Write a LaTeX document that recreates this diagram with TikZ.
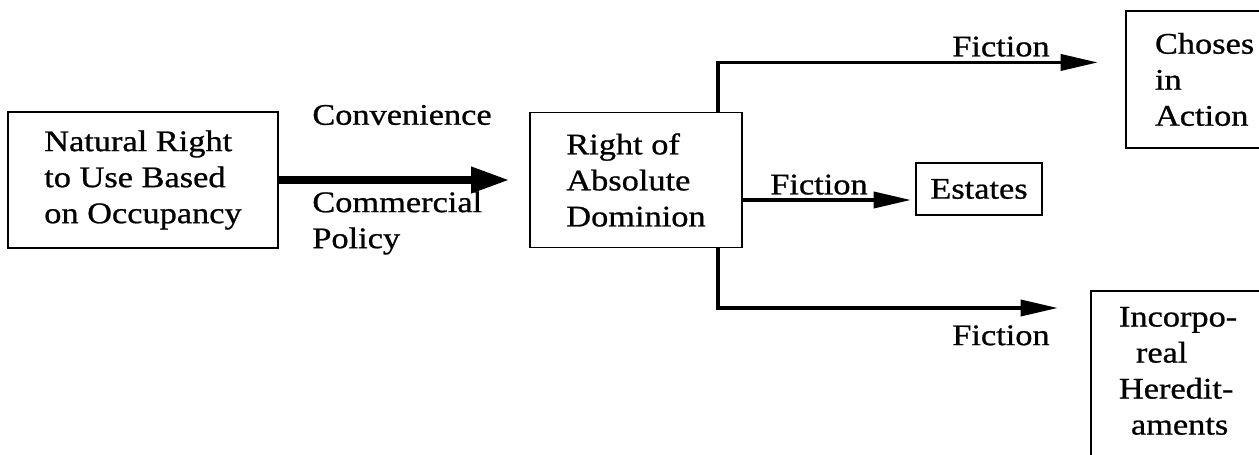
\documentclass[tikz,border=0pt]{standalone}
\usepackage{fontspec}
\setmainfont[FakeStretch=1.15,FakeBold=0.8]{Liberation Serif}
\usetikzlibrary{arrows.meta}
\begin{document}
\begin{tikzpicture}[x=0.02cm,y=-0.02cm,
    font=\fontsize{17}{20.5}\selectfont,
    box/.style={draw,line width=1.1pt,inner sep=0pt},
    lbl/.style={inner sep=0pt,align=left},
    link/.style={line width=2.2pt,-{Triangle[length=0.75cm,width=0.32cm]}},
    bigarrow/.style={line width=4pt,-{Triangle[length=0.76cm,width=0.5cm]}}]
  \useasboundingbox (0,0) rectangle (1259,455);
  \node[box,minimum width=5.4cm,minimum height=2.72cm,align=left] (nat) at (143,180)
    {Natural Right\\to Use Based\\on Occupancy};
  \node[box,minimum width=4.24cm,minimum height=2.7cm,align=left] (dom) at (636,180)
    {Right of\\Absolute\\Dominion};
  \node[box,minimum width=2.52cm,minimum height=1.04cm] (est) at (979,189) {Estates};
  \node[box,anchor=north west,text width=3.6cm,inner xsep=0.58cm,minimum height=2.74cm,align=left] (cho) at (1125,10)
    {Choses\\in\\Action};
  \node[box,anchor=north west,text width=4cm,inner xsep=0.56cm,inner ysep=0.32cm,align=left] (inc) at (1090,290)
    {Incorpo-\\\hspace*{0.34cm}real\\Heredit-\\\hspace*{0.24cm}aments\rule[-2cm]{0pt}{0pt}};
  \node[lbl,anchor=west] (conv) at (312,115) {Convenience};
  \node[lbl,anchor=west] (pol) at (312,223) {Commercial\\Policy};
  \node[lbl,anchor=south east] (fic1) at (1050,57) {Fiction};
  \node[lbl,anchor=south west] (fic2) at (770,195) {Fiction};
  \node[lbl,anchor=north east] (fic3) at (1050,325) {Fiction};
  \begin{scope}
    \draw[bigarrow] (nat.east) -- ([xshift=-0.4cm]dom.west);
    \draw[link] ([yshift=-0.4cm]dom.east) -- ([shift={(-0.08cm,-0.22cm)}]est.west);
    \draw[link] ([xshift=-0.5cm]dom.north east) |- ([shift={(-0.54cm,0.34cm)}]cho.west);
    \draw[link] ([xshift=-0.5cm]dom.south east) |- ([shift={(-0.64cm,-0.36cm)}]inc.north west);
  \end{scope}
\end{tikzpicture}
\end{document}
